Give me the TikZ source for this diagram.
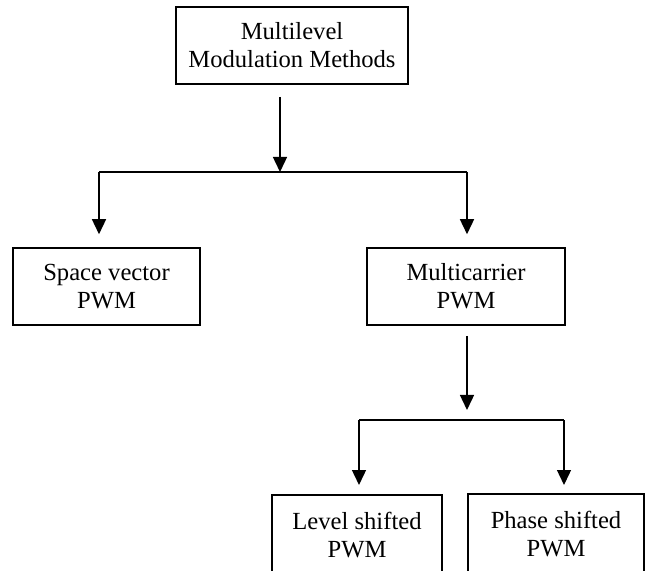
\documentclass[tikz,border=0pt]{standalone}
\usepackage{fontspec}
\setmainfont{Liberation Serif}
\usetikzlibrary{arrows.meta,positioning,calc}
\tikzset{
  modbox/.style={rectangle, draw=black, line width=1.3pt, align=center, minimum height=2.31cm, inner sep=2pt, font=\fontsize{21}{24}\selectfont},
  modarrow/.style={-{Triangle[length=0.45cm, width=0.42cm]}, line width=1.2pt},
  modline/.style={line width=1.2pt}
}

\begin{document}
\begin{tikzpicture}[x=0.03cm, y=-0.03cm]
\useasboundingbox (0,0) rectangle (645,571);
\clip (0,0) rectangle (645,571);
\node[modbox, minimum width=6.96cm] (mlm) at (292,45.5) {Multilevel\\Modulation Methods};
\node[modbox, minimum width=5.61cm] (svpwm) at (106.5,286.5) {Space vector\\PWM};
\node[modbox, minimum width=5.94cm] (mcpwm) at (466,286.5) {Multicarrier\\PWM};
\node[modbox, minimum width=5.1cm, minimum height=2.4cm, anchor=north] (lspwm) at (357,494) {Level shifted\\PWM};
\node[modbox, minimum width=5.28cm, minimum height=2.4cm, anchor=north] (pspwm) at (556,493) {Phase shifted\\PWM};
% first split
\coordinate (jtop) at (280,172);
\coordinate (jsv) at (99,172);
\coordinate (jmc) at (467,172);
\draw[modarrow, shorten <=0.36cm] (mlm.south -| jtop) -- (jtop);
\draw[modline] (jsv) -- (jmc);
\draw[modarrow, shorten >=0.39cm] (jsv) -- (svpwm.north -| jsv);
\draw[modarrow, shorten >=0.39cm] (jmc) -- (mcpwm.north -| jmc);
% second split
\coordinate (jbot) at (467,420);
\coordinate (jls) at (359,420);
\coordinate (jps) at (564,420);
\draw[modarrow, shorten <=0.3cm, shorten >=0.3cm] (mcpwm.south -| jbot) -- (jbot);
\draw[modline] (jls) -- (jps);
\draw[modarrow, shorten >=0.27cm] (jls) -- (lspwm.north -| jls);
\draw[modarrow, shorten >=0.24cm] (jps) -- (pspwm.north -| jps);
\end{tikzpicture}
\end{document}
